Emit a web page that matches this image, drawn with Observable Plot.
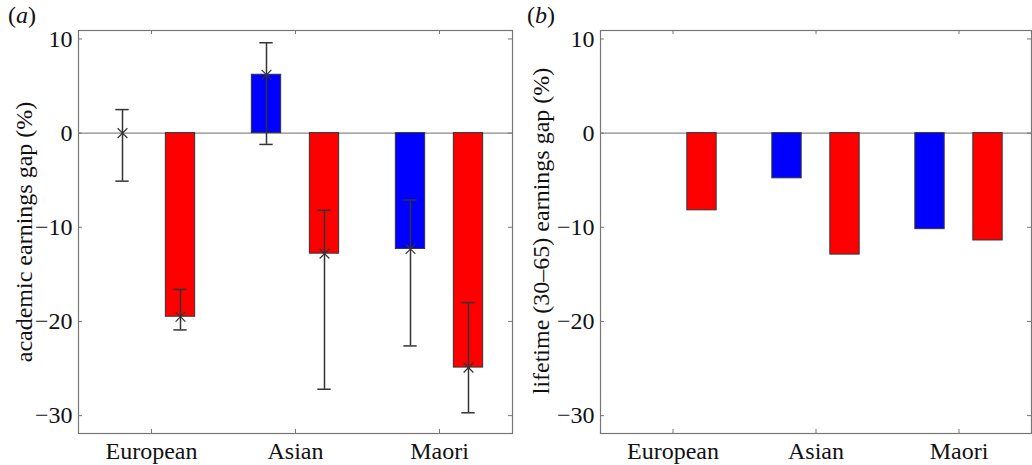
<!DOCTYPE html>
<html>
<head>
<meta charset="utf-8">
<script src="https://cdn.jsdelivr.net/npm/d3@7"></script>
<script src="https://cdn.jsdelivr.net/npm/@observablehq/plot@0.6"></script>
<style>
  html, body { margin: 0; padding: 0; background: #fff; }
  #wrap { display: flex; width: 1032px; height: 465px; overflow: hidden; }
  .panel { position: relative; }
  .panel, .panel * { font-family: "Liberation Serif", "Times New Roman", serif !important; }
  .tag { position: absolute; top: 3px; font-size: 24px; color: #111; line-height: 1; }
  .tag i { font-style: italic; }
  .ylab { position: absolute; font-size: 24px; color: #111; line-height: 1; white-space: nowrap;
          transform: translate(-50%, -50%) rotate(-90deg); }
  svg { overflow: visible; display: block; }
</style>
</head>
<body>
<div id="wrap">
  <div class="panel" id="pa" style="width:520px"></div>
  <div class="panel" id="pb" style="width:512px"></div>
</div>
<script>
// ---- data ----
const groups = ["European", "Asian", "Maori"];
const series = ["ethnic", "gender"];          // blue, red
const seriesColors = ["#0000ff", "#ff0000"];

// panel (a): academic earnings gap (%)
const academicEthnic = [0, 6.2, -12.3];
const academicEthnicLow = [-5.1, -1.2, -22.6];
const academicEthnicHigh = [2.5, 9.6, -7.1];
const academicGender = [-19.5, -12.8, -24.9];
const academicGenderLow = [-20.9, -27.2, -29.7];
const academicGenderHigh = [-16.6, -8.2, -18.0];

// panel (b): lifetime (30–65) earnings gap (%)
const lifetimeEthnic = [0, -4.8, -10.2];
const lifetimeGender = [-8.2, -12.9, -11.4];

const yTicks = [-30, -20, -10, 0, 10];
const yDomain = [-31.9, 10.9];

const panelTags = ["a", "b"];
const yLabels = ["academic earnings gap (%)", "lifetime (30–65) earnings gap (%)"];

function buildRows(vals, lows, highs) {
  const rows = [];
  series.forEach((s, si) => {
    groups.forEach((g, gi) => {
      rows.push({
        group: g, series: s,
        value: vals[si][gi],
        low: lows ? lows[si][gi] : null,
        high: highs ? highs[si][gi] : null
      });
    });
  });
  return rows;
}

function panel({rows, width, marginLeft, marginRight, errors}) {
  const height = 465, marginTop = 30, marginBottom = 32;
  const pw = width - marginLeft - marginRight;
  const ph = height - marginTop - marginBottom;
  const bw = pw / groups.length;
  const barW = 30, shift = 29, capW = 14;
  const barInset = (bw - barW) / 2;
  const capInset = (bw - capW) / 2;
  const off = s => s === "ethnic" ? -shift : shift;
  const marks = [];
  marks.push(Plot.ruleY([0], {stroke: "#8a8a8a", strokeWidth: 1.2}));
  for (const s of series) {
    const d = rows.filter(r => r.series === s);
    marks.push(Plot.barY(d, {
      x: "group", y: "value",
      fill: seriesColors[series.indexOf(s)],
      stroke: "#333", strokeWidth: 1,
      insetLeft: barInset, insetRight: barInset, dx: off(s)
    }));
  }
  if (errors) {
    for (const s of series) {
      const d = rows.filter(r => r.series === s);
      marks.push(Plot.ruleX(d, {x: "group", y1: "low", y2: "high", stroke: "#333", strokeWidth: 1.5, dx: off(s)}));
      marks.push(Plot.tickY(d, {x: "group", y: "low", stroke: "#333", strokeWidth: 1.5, insetLeft: capInset, insetRight: capInset, dx: off(s)}));
      marks.push(Plot.tickY(d, {x: "group", y: "high", stroke: "#333", strokeWidth: 1.5, insetLeft: capInset, insetRight: capInset, dx: off(s)}));
      marks.push(Plot.dot(d, {x: "group", y: "value", symbol: "times", r: 4.5, stroke: "#333", strokeWidth: 1.2, dx: off(s)}));
    }
  }
  const tl = 4;
  marks.push(Plot.tickY(yTicks, {y: d => d, stroke: "#777", insetRight: pw - tl}));
  marks.push(Plot.tickY(yTicks, {y: d => d, stroke: "#777", insetLeft: pw - tl}));
  marks.push(Plot.tickX(groups, {x: d => d, stroke: "#777", insetBottom: ph - tl}));
  marks.push(Plot.tickX(groups, {x: d => d, stroke: "#777", insetTop: ph - tl}));
  marks.push(Plot.frame({stroke: "#777", strokeWidth: 1.2}));
  marks.push(Plot.axisY({ticks: yTicks, tickSize: 0, tickPadding: 6, label: null, fontSize: 24, fill: "#111"}));
  marks.push(Plot.axisX({tickSize: 0, tickPadding: 8, label: null, fontSize: 24, fill: "#111"}));
  return Plot.plot({
    width, height, marginTop, marginBottom, marginLeft, marginRight,
    style: {fontSize: "24px", color: "#111", background: "transparent", overflow: "visible"},
    x: {type: "band", domain: groups, padding: 0},
    y: {domain: yDomain},
    marks
  });
}

function addPanel(el, i, svg, labelX, labelY) {
  const tag = document.createElement("div");
  tag.className = "tag";
  tag.style.left = (i === 0 ? 8 : 7) + "px";
  tag.innerHTML = "(<i>" + panelTags[i] + "</i>)";
  el.appendChild(svg);
  el.appendChild(tag);
  const lab = document.createElement("div");
  lab.className = "ylab";
  lab.style.left = labelX + "px";
  lab.style.top = labelY + "px";
  lab.textContent = yLabels[i];
  el.appendChild(lab);
}

const rowsA = buildRows(
  [academicEthnic, academicGender],
  [academicEthnicLow, academicGenderLow],
  [academicEthnicHigh, academicGenderHigh]
);
const rowsB = buildRows([lifetimeEthnic, lifetimeGender]);

addPanel(document.getElementById("pa"), 0,
  panel({rows: rowsA, width: 520, marginLeft: 78, marginRight: 8, errors: true}), 24, 231.5);
addPanel(document.getElementById("pb"), 1,
  panel({rows: rowsB, width: 512, marginLeft: 80, marginRight: 1, errors: false}), 20.5, 230.5);
</script>
</body>
</html>
